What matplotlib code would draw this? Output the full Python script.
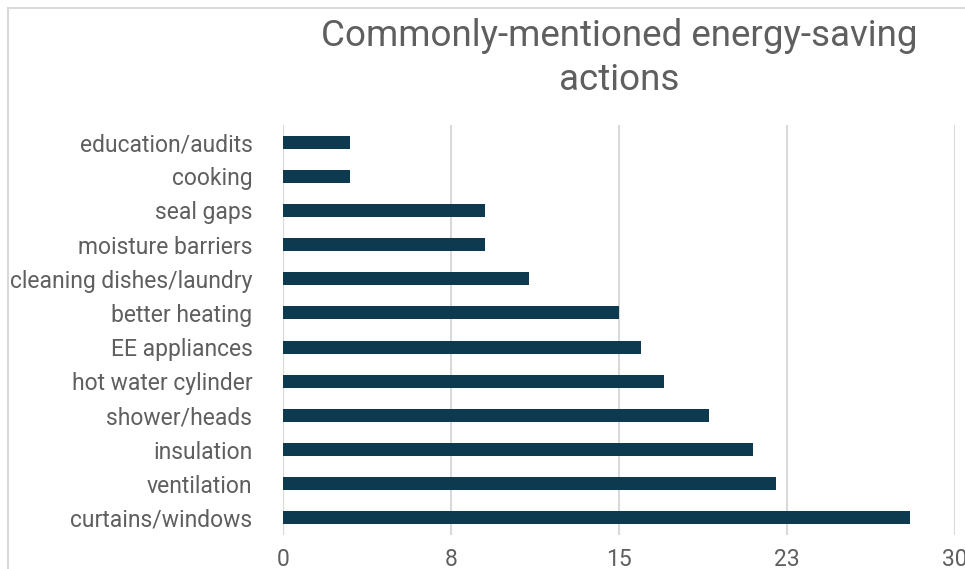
import matplotlib.pyplot as plt
from matplotlib.patches import Rectangle

# categories listed bottom to top
actions = ["curtains/windows", "ventilation", "insulation", "shower/heads",
           "hot water cylinder", "EE appliances", "better heating",
           "cleaning dishes/laundry", "moisture barriers", "seal gaps",
           "cooking", "education/audits"]
counts = [28, 22, 21, 19, 17, 16, 15, 11, 9, 9, 3, 3]
tick_vals = [0, 7.5, 15, 22.5, 30]
tick_labels = ["0", "8", "15", "23", "30"]

plt.rcParams['font.family'] = ['Roboto', 'DejaVu Sans']
txt = '#5f5f5f'

fig = plt.figure(figsize=(9.65, 5.69), dpi=100)
fig.patches.append(Rectangle((8 / 965, -0.1), 1.2, 1.1 - 8 / 569,
                             transform=fig.transFigure, fill=False,
                             edgecolor='#d9d9d9', linewidth=1.5))
ax = fig.add_axes([283 / 965, 1 - 535 / 569, (955 - 283) / 965, (535 - 125) / 569])

ax.barh(range(len(actions)), counts, height=0.38, color='#0e3a4f', zorder=3)
ax.set_xlim(0, 30)
ax.set_ylim(-0.5, len(actions) - 0.5)
ax.set_yticks(range(len(actions)))
ax.set_yticklabels(actions, fontsize=16.5, color=txt)
ax.set_xticks(tick_vals)
ax.set_xticklabels(tick_labels, fontsize=16.5, color=txt)
ax.tick_params(length=0)
ax.tick_params(axis='x', pad=9)
ax.tick_params(axis='y', pad=22)
ax.grid(axis='x', color='#d9d9d9', linewidth=1.5, zorder=0)
for s in ax.spines.values():
    s.set_visible(False)
ax.axvline(0, color='#d9d9d9', linewidth=1.5, zorder=1)

fig.text(619 / 965, 1 - 58 / 569, "Commonly-mentioned energy-saving\nactions",
         ha='center', va='center', fontsize=26.5, color=txt, linespacing=1.25)

fig.savefig("out.png", dpi=100)
